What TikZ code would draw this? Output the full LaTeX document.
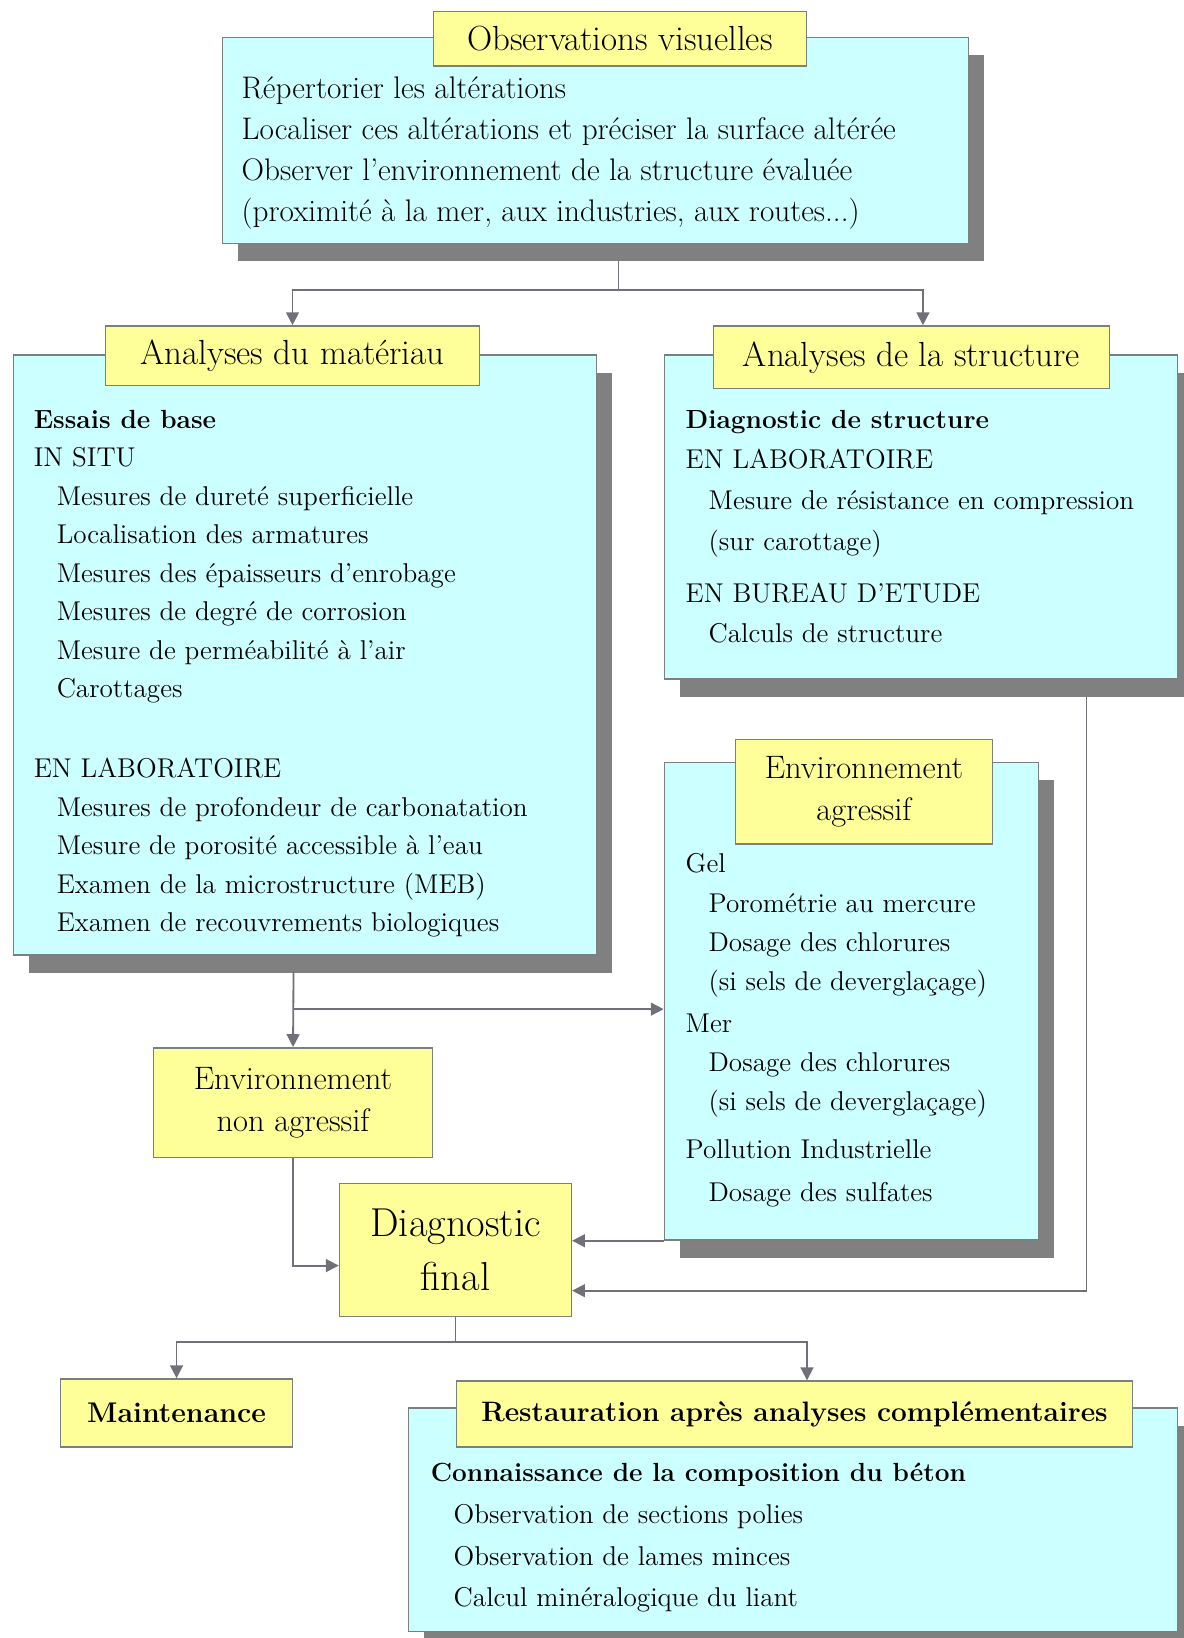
\documentclass[tikz,border=0pt]{standalone}
\usepackage{fontspec}
\usepackage{xcolor}
\usepackage{tikz}
\usetikzlibrary{arrows.meta, positioning, fit, calc, shadows}
\definecolor{panelcyan}{RGB}{204,255,255}
\definecolor{titleyellow}{RGB}{255,255,153}
\definecolor{edgegray}{RGB}{120,128,128}
\definecolor{shadowgray}{RGB}{128,128,128}
\definecolor{linegray}{RGB}{112,112,122}
\tikzset{
  panel/.style={
    rectangle, inner sep=0pt, draw=edgegray, line width=0.8pt,
    fill=panelcyan,
    drop shadow={shadow xshift=0.3cm, shadow yshift=-0.34cm, opacity=1, fill=shadowgray}
  },
  titlebox/.style={
    rectangle, inner sep=0pt, draw=edgegray, line width=0.8pt,
    fill=titleyellow, align=center,
    font=\fontsize{19}{22.8}\selectfont
  },
  bodytext/.style={
    anchor=north west, inner sep=0pt, align=left,
    font=\fontsize{14.8}{21}\selectfont
  },
  link/.style={line width=1pt, linegray},
  arrow/.style={link, -{Triangle[length=7pt, width=7pt]}}
}
\newcommand{\itemind}{\hspace*{0.44cm}}
\newcommand{\headline}[1]{{\fontsize{14.3}{21}\selectfont\bfseries #1}}

\begin{document}
\begin{tikzpicture}[x=0.02cm, y=-0.02cm]
  \useasboundingbox (0,0) rectangle (1133,1568);

  % Observations visuelles
  \node[panel, fit={(213,36) (927,233)}] (obs) {};
  \node[titlebox, minimum width=7.14cm, minimum height=1.04cm] (obsT) at (593.5,37) {Observations visuelles};
  \node[bodytext, font=\fontsize{17}{22.4}\selectfont] (obsB) at (231,73) {%
    Répertorier les altérations\\
    Localiser ces altérations et préciser la surface altérée\\
    Observer l’environnement de la structure évaluée\\
    (proximité à la mer, aux industries, aux routes...)};

  % Analyses du materiau
  \node[panel, fit={(13,340) (571,914)}] (mat) {};
  \node[titlebox, minimum width=7.16cm, minimum height=1.14cm] (matT) at (280,340.5) {Analyses du matériau};
  \node[bodytext] (matB) at (32,392) {%
    \headline{Essais de base}\\
    IN SITU\\
    \itemind Mesures de dureté superficielle\\
    \itemind Localisation des armatures\\
    \itemind Mesures des épaisseurs d’enrobage\\
    \itemind Mesures de degré de corrosion\\
    \itemind Mesure de perméabilité à l’air\\
    \itemind Carottages\\[22.5pt]
    EN LABORATOIRE\\
    \itemind Mesures de profondeur de carbonatation\\
    \itemind Mesure de porosité accessible à l’eau\\
    \itemind Examen de la microstructure (MEB)\\
    \itemind Examen de recouvrements biologiques};

  % Analyses de la structure
  \node[panel, fit={(636,340) (1127,650)}] (str) {};
  \node[titlebox, minimum width=7.58cm, minimum height=1.2cm] (strT) at (872.5,342) {Analyses de la structure};
  \node[bodytext, font=\fontsize{14.8}{22.2}\selectfont] (strB) at (656,392) {%
    \headline{Diagnostic de structure}\\
    EN LABORATOIRE\\
    \itemind Mesure de résistance en compression\\
    \itemind (sur carottage)\\[6pt]
    EN BUREAU D’ETUDE\\
    \itemind Calculs de structure};

  % Environnement agressif
  \node[panel, fit={(636,730) (994,1187)}] (agr) {};
  \node[titlebox, minimum width=4.92cm, minimum height=2cm, font=\fontsize{17.7}{21.6}\selectfont] (agrT) at (827,758) {Environnement\\[1pt]agressif};
  \node[bodytext, font=\fontsize{14.8}{21.3}\selectfont] (agrB) at (656,817) {%
    Gel\\
    \itemind Porométrie au mercure\\
    \itemind Dosage des chlorures\\
    \itemind (si sels de deverglaçage)\\[1.5pt]
    Mer\\
    \itemind Dosage des chlorures\\
    \itemind (si sels de deverglaçage)\\[5pt]
    Pollution Industrielle\\[2pt]
    \itemind Dosage des sulfates};

  % Environnement non agressif and Diagnostic final
  \node[titlebox, minimum width=5.34cm, minimum height=2.1cm, font=\fontsize{17.7}{22.8}\selectfont] (nagr) at (280.5,1055.5) {Environnement\\non agressif};
  \node[titlebox, minimum width=4.44cm, minimum height=2.54cm, font=\fontsize{22}{29.6}\selectfont] (diag) at (436,1196.5) {Diagnostic\\final};

  % Maintenance and Restauration
  \node[titlebox, minimum width=4.44cm, minimum height=1.3cm, font=\fontsize{15.5}{20}\selectfont\bfseries] (maint) at (169,1352.5) {Maintenance};
  \node[panel, fit={(391,1348) (1127,1562)}] (res) {};
  \node[titlebox, minimum width=12.94cm, minimum height=1.26cm, font=\fontsize{15.3}{20}\selectfont\bfseries] (resT) at (760.5,1353.5) {Restauration après analyses complémentaires};
  \node[bodytext, font=\fontsize{14.8}{22.8}\selectfont] (resB) at (412,1400) {%
    \headline{Connaissance de la composition du béton}\\
    \itemind Observation de sections polies\\
    \itemind Observation de lames minces\\
    \itemind Calcul minéralogique du liant};

  % Connectors
  \coordinate (obsout) at (592,250);
  \coordinate (fork) at (592,278);
  \draw[link] (obsout) -- (fork);
  \draw[arrow] (fork) -| (matT.north);
  \draw[arrow] (fork) -| ($(strT.north)+(11,0)$);

  \coordinate (matout) at (281,930);
  \coordinate (matfork) at (281,966);
  \draw[arrow] (matout) -- (nagr.north);
  \draw[arrow] (matfork) -- (matfork -| agr.west);

  \draw[arrow] (nagr.south) |- ($(diag.west)+(0,15)$);
  \draw[arrow] (agr.south west) -- (agr.south west -| diag.east);
  \coordinate (strout) at (1040,667);
  \draw[arrow] (strout) |- ($(diag.east)+(0,39)$);

  \coordinate (diagfork) at (436,1285);
  \draw[link] (diag.south) -- (diagfork);
  \draw[arrow] (diagfork) -| (maint.north);
  \draw[arrow] (diagfork) -| ($(resT.north)+(12,0)$);
\end{tikzpicture}
\end{document}
